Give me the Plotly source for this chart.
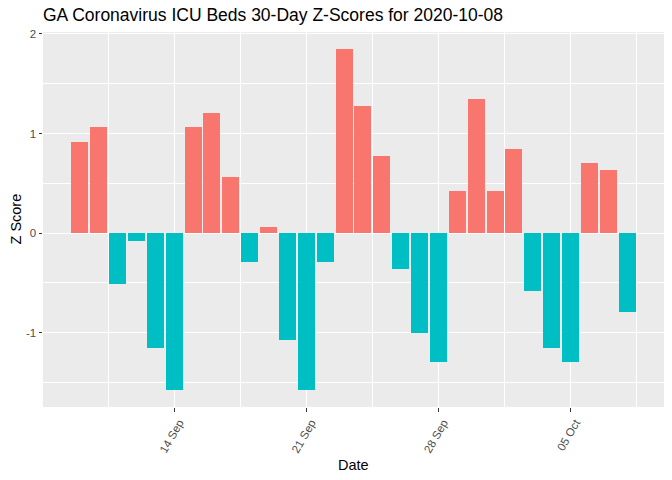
import plotly.graph_objects as go
import pandas as pd

dates = pd.date_range("2020-09-09", "2020-10-08", freq="D").strftime("%Y-%m-%d").tolist()
zscores = [0.915, 1.065, -0.509, -0.077, -1.152, -1.575, 1.065, 1.206, 0.563, -0.288,
           0.060, -1.072, -1.575, -0.288, 1.849, 1.276, 0.774, -0.358, -1.002, -1.293,
           0.422, 1.347, 0.422, 0.844, -0.580, -1.152, -1.293, 0.704, 0.633, -0.791]
pos_color = "#F8766D"
neg_color = "#00BFC4"
tick_vals = ["2020-09-14", "2020-09-21", "2020-09-28", "2020-10-05"]
tick_text = ["14 Sep", "21 Sep", "28 Sep", "05 Oct"]

DAY = 86400000
colors = [pos_color if v > 0 else neg_color for v in zscores]

fig = go.Figure(go.Bar(x=dates, y=zscores, marker=dict(color=colors, line=dict(width=0)),
                       width=0.9 * DAY, showlegend=False))

W, H = 672, 480
L, R, T, B = 43, 8, 32, 73
fig.update_layout(
    width=W, height=H,
    margin=dict(l=L, r=R, t=T, b=B, autoexpand=False),
    paper_bgcolor="white", plot_bgcolor="#EBEBEB",
    font=dict(family="Liberation Sans, Arial, sans-serif"),
    title=dict(text="GA Coronavirus ICU Beds 30-Day Z-Scores for 2020-10-08",
               x=43 / W, xanchor="left", y=1 - 15 / H, yanchor="middle",
               font=dict(size=17.5, color="black"), automargin=False),
    bargap=0,
    annotations=[
        dict(text="Date", xref="paper", yref="paper", x=0.5,
             y=-(465 - (H - B)) / (H - T - B), xanchor="center", yanchor="middle",
             showarrow=False, font=dict(size=14.5, color="black")),
        dict(text="Z Score", xref="paper", yref="paper",
             x=-(L - 15) / (W - L - R), y=0.5, xanchor="center", yanchor="middle",
             textangle=-90, showarrow=False, font=dict(size=14.5, color="black")),
    ],
)
fig.update_xaxes(
    type="date", automargin=False,
    range=["2020-09-07 01:12", "2020-10-09 22:48"],
    tickvals=tick_vals, ticktext=tick_text, tickangle=-60,
    tickfont=dict(size=11.5, color="#4D4D4D"), ticklabelshift=5,
    ticks="outside", ticklen=3.5, tickcolor="#333333", tickwidth=1,
    showgrid=True, gridcolor="white", gridwidth=1.1,
    minor=dict(tick0="2020-09-10 12:00", dtick=7 * DAY, showgrid=True,
               gridcolor="white", gridwidth=0.55, ticks=""),
    zeroline=False, showline=False,
)
fig.update_yaxes(
    automargin=False,
    range=[-1.746, 2.02],
    tickvals=[-1, 0, 1, 2], ticktext=["-1", "0", "1", "2"],
    tickfont=dict(size=11.5, color="#4D4D4D"),
    ticks="outside", ticklen=3.5, tickcolor="#333333", tickwidth=1,
    showgrid=True, gridcolor="white", gridwidth=1.1,
    minor=dict(tick0=-1.5, dtick=1, showgrid=True, gridcolor="white", gridwidth=0.55, ticks=""),
    zeroline=False, showline=False,
)

fig.write_html("out.html", config={"displayModeBar": False},
               post_script="document.body.style.margin='0';document.body.style.overflow='hidden';")
